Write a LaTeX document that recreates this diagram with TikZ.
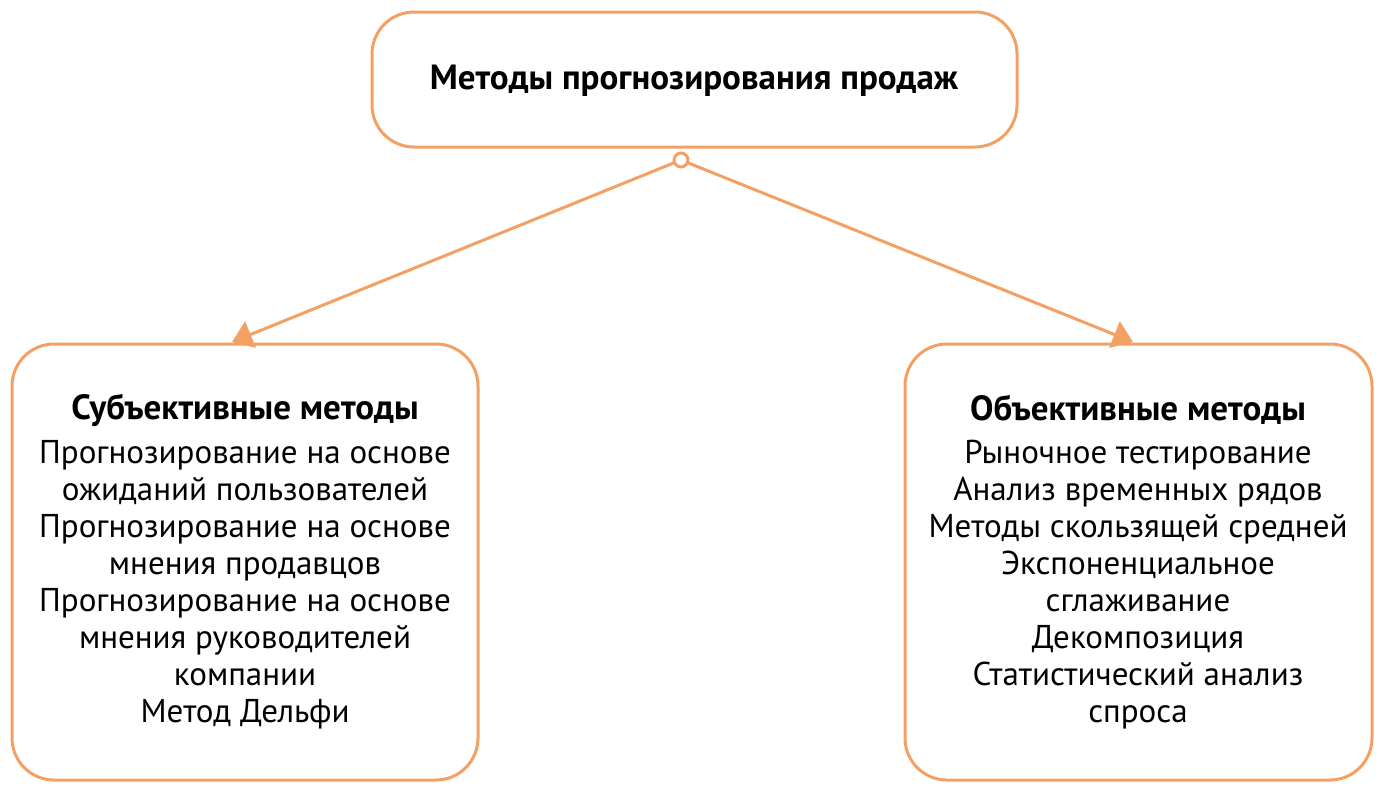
\documentclass[tikz,border=0pt]{standalone}
\usepackage{fontspec}
\setmainfont{PT Sans}
\usetikzlibrary{arrows.meta}
\definecolor{org}{HTML}{F4A064}
\tikzset{box/.style={draw=org,line width=3pt,rounded corners=42pt,fill=white},
 txt/.style={align=center,font=\fontsize{33}{37}\selectfont,inner sep=0pt},
 hd/.style={font=\fontsize{35}{40}\selectfont\bfseries},
 conn/.style={draw=org,line width=3pt,-{Triangle[length=20pt,width=28pt]}}}
\begin{document}
\begin{tikzpicture}[x=1pt,y=-1pt]
\useasboundingbox (0,0) rectangle (1390,801);
\draw[box] (372,12) rectangle (1017,147);
\node[hd] (top) at (694,81) {Методы прогнозирования продаж};
\draw[box] (12,344) rectangle (478,780);
\draw[box] (905,344) rectangle (1372,780);
\node[hd] (lt) at (245,410) {Субъективные методы};
\node[hd] (rt) at (1138,410) {Объективные методы};
\node[txt,anchor=north] (lb) at (245,440) {Прогнозирование на основе\\ожиданий пользователей\\Прогнозирование на основе\\мнения продавцов\\Прогнозирование на основе\\мнения руководителей\\компании\\Метод Дельфи};
\node[txt,anchor=north] (rb) at (1138,440) {Рыночное тестирование\\Анализ временных рядов\\Методы скользящей средней\\Экспоненциальное\\сглаживание\\Декомпозиция\\Статистический анализ\\спроса};
\coordinate (c) at (681,160);
\coordinate (l) at (232,342);
\coordinate (r) at (1133,342);
\draw[conn,shorten <=6pt] (c) -- (l);
\draw[conn,shorten <=6pt] (c) -- (r);
\draw[org,line width=3pt,fill=white] (c) circle (7);
\end{tikzpicture}
\end{document}
